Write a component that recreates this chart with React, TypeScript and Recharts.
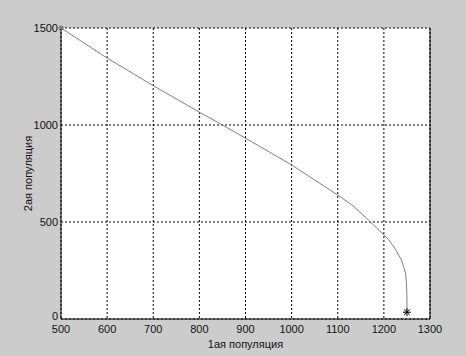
import React from 'react';
import {
  ComposedChart,
  Line,
  Scatter,
  XAxis,
  YAxis,
  CartesianGrid,
  ReferenceLine,
  Label,
} from 'recharts';

// first population (x) and second population (y) along the trajectory
const pop1 = [500, 600, 700, 800, 850, 900, 1000, 1100, 1133, 1171, 1200, 1211, 1225, 1238, 1247, 1249, 1250, 1250];
const pop2 = [1500, 1345, 1203, 1066, 1000, 932, 794, 639, 584, 500, 433, 407, 360, 304, 237, 180, 120, 35];

const startPoint = [{ x: 500, y: 1500 }];
const endPoint = [{ x: 1250, y: 35 }];

const xTicks = [500, 600, 700, 800, 900, 1000, 1100, 1200, 1300];
const yTicks = [0, 500, 1000, 1500];

const xTitle = '1ая популяция';
const yTitle = '2ая популяция';

const curveData = pop1.map((x, i) => ({ x, y: pop2[i] }));

const font = '"Liberation Sans", Arial, sans-serif';

// asterisk marker like matlab's '*'
const Asterisk = (color: string, r: number) => (props: any) => {
  const { cx, cy } = props;
  const d = r * 0.7;
  return (
    <g stroke={color} strokeWidth={1}>
      <line x1={cx - r} y1={cy} x2={cx + r} y2={cy} />
      <line x1={cx} y1={cy - r} x2={cx} y2={cy + r} />
      <line x1={cx - d} y1={cy - d} x2={cx + d} y2={cy + d} />
      <line x1={cx - d} y1={cy + d} x2={cx + d} y2={cy - d} />
    </g>
  );
};

// y tick labels; the 0 sits a little higher so it clears the 500 below it
const YTick = (props: any) => {
  const { x, y, payload } = props;
  const lift = payload.value === 0 ? -3 : 0;
  return (
    <text x={x} y={y + lift} dy="0.355em" textAnchor="end" fill="#111" fontSize={11}>
      {payload.value}
    </text>
  );
};

const App: React.FC = () => {
  return (
    <div style={{ position: 'absolute', left: 0, top: 0, width: 466, height: 356, background: '#cccccc' }}>
      <ComposedChart
        width={466}
        height={356}
        data={curveData}
        margin={{ top: 28, right: 36, left: 16, bottom: 0 }}
        style={{ fontFamily: font }}
      >
        <CartesianGrid
          fill="#ffffff"
          stroke="#000000"
          strokeDasharray="2 2"
          verticalValues={xTicks}
          horizontalValues={yTicks}
        />
        <XAxis
          type="number"
          dataKey="x"
          domain={[500, 1300]}
          ticks={xTicks}
          interval={0}
          height={37}
          tickSize={0}
          tickMargin={6}
          tick={{ fill: '#111', fontSize: 11 }}
          axisLine={{ stroke: '#000' }}
        >
          <Label value={xTitle} position="insideBottom" offset={8} style={{ fill: '#111', fontSize: 11 }} />
        </XAxis>
        <YAxis
          type="number"
          dataKey="y"
          domain={[0, 1500]}
          ticks={yTicks}
          interval={0}
          width={45}
          tickSize={0}
          tickMargin={3}
          tick={<YTick />}
          axisLine={{ stroke: '#000' }}
        >
          <Label value={yTitle} angle={-90} position="insideLeft" offset={12} style={{ fill: '#111', fontSize: 11, textAnchor: 'middle' }} />
        </YAxis>
        <ReferenceLine x={1300} stroke="#000" />
        <Line
          type="linear"
          dataKey="y"
          stroke="#808080"
          strokeWidth={1}
          dot={false}
          activeDot={false}
          isAnimationActive={false}
        />
        <Scatter data={startPoint} shape={Asterisk('#707070', 3)} isAnimationActive={false} />
        <Scatter data={endPoint} shape={Asterisk('#000000', 4)} isAnimationActive={false} />
      </ComposedChart>
    </div>
  );
};

export default App;
